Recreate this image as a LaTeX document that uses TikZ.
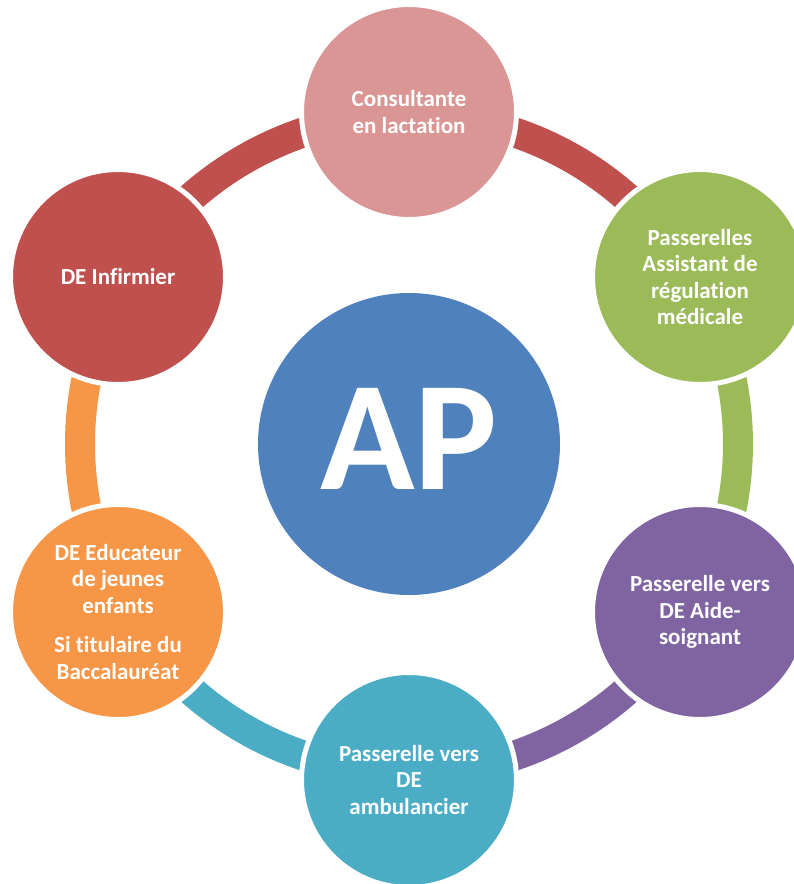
\documentclass[tikz,border=0pt]{standalone}
\usepackage{fontspec}
\setmainfont{Carlito}[Ligatures=NoCommon]
\definecolor{cpink}{HTML}{D99694}
\definecolor{cred}{HTML}{C0504D}
\definecolor{cgreen}{HTML}{9BBB59}
\definecolor{cpurple}{HTML}{8064A2}
\definecolor{cteal}{HTML}{4BACC6}
\definecolor{corange}{HTML}{F79646}
\definecolor{cblue}{HTML}{4F81BD}
\begin{document}
\begin{tikzpicture}[x=1pt,y=-1pt,
  outer/.style={circle, draw=white, line width=5pt, minimum size=215pt, inner sep=0pt,
    text=white, align=center, font=\fontsize{23}{26.5}\selectfont\bfseries},
  ring/.style={line width=30pt}]
\useasboundingbox (0,0) rectangle (793,884);
\coordinate (C0) at (409,444);
% ring arcs (drawn first, under the circles)
\draw[ring, cred]    ([shift={(-90:329)}]C0) arc[start angle=-90, end angle=-30, radius=329];
\draw[ring, cgreen]  ([shift={(-30:329)}]C0) arc[start angle=-30, end angle=30, radius=329];
\draw[ring, cpurple] ([shift={(30:329)}]C0) arc[start angle=30, end angle=90, radius=329];
\draw[ring, cteal]   ([shift={(90:329)}]C0) arc[start angle=90, end angle=150, radius=329];
\draw[ring, corange] ([shift={(150:329)}]C0) arc[start angle=150, end angle=210, radius=329];
\draw[ring, cred]    ([shift={(210:329)}]C0) arc[start angle=210, end angle=270, radius=329];
% centre
\node[circle, fill=cblue, minimum size=302pt, inner sep=0pt] (C) at (409,444) {};
\node[text=white, font=\fontsize{156}{156}\selectfont\bfseries, inner sep=0pt] (AP) at (409,439) {AP};
% outer circles
\node[outer, fill=cpink]   (T)  at (409,112) {Consultante\\en lactation};
\node[outer, fill=cgreen]  (UR) at (700,277) {Passerelles\\Assistant de\\régulation\\médicale};
\node[outer, fill=cpurple] (LR) at (700,612) {Passerelle vers\\DE Aide-\\soignant};
\node[outer, fill=cteal]   (B)  at (409,780) {Passerelle vers\\DE\\ambulancier};
\node[outer, fill=corange] (LL) at (118,612) {DE Educateur\\de jeunes\\enfants\\[13pt]Si titulaire du\\Baccalauréat};
\node[outer, fill=cred]    (UL) at (118,277) {DE Infirmier};
\end{tikzpicture}
\end{document}
